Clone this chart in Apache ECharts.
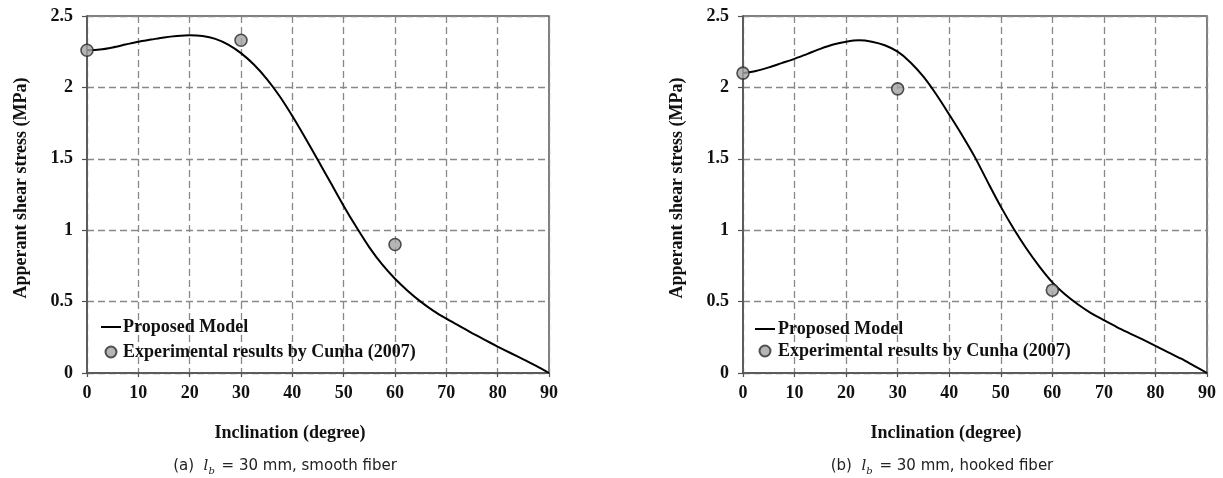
<!DOCTYPE html>
<html>
<head>
<meta charset="utf-8">
<script src="https://cdn.jsdelivr.net/npm/echarts@6/dist/echarts.min.js"></script>
<style>html,body{margin:0;padding:0;background:#fff}#c{width:1223px;height:478px}</style>
</head>
<body>
<div id="c"></div>
<script>
// ---- data ----
const inclination = [0,2.5,5,7.5,10,12.5,15,17.5,20,22.5,25,27.5,30,32.5,35,37.5,40,42.5,45,47.5,50,52.5,55,57.5,60,62.5,65,67.5,70,72.5,75,77.5,80,82.5,85,87.5,90];
const modelSmooth = [2.26,2.265,2.28,2.30,2.32,2.335,2.35,2.36,2.365,2.36,2.34,2.30,2.24,2.16,2.06,1.94,1.80,1.648,1.49,1.33,1.17,1.02,0.88,0.76,0.66,0.575,0.50,0.435,0.38,0.33,0.28,0.232,0.185,0.14,0.095,0.05,0];
const modelHooked = [2.10,2.115,2.14,2.17,2.20,2.235,2.27,2.30,2.32,2.33,2.32,2.295,2.25,2.175,2.075,1.95,1.81,1.665,1.51,1.335,1.165,1.01,0.87,0.745,0.635,0.55,0.48,0.42,0.37,0.322,0.278,0.235,0.19,0.145,0.10,0.05,0];
const expInclination = [0,30,60];
const expSmooth = [2.26,2.33,0.90];
const expHooked = [2.10,1.99,0.58];
const xTitle = 'Inclination (degree)';
const yTitle = 'Apperant shear stress (MPa)';
const seriesNames = ['Proposed Model','Experimental results by Cunha (2007)'];

const serif = 'Liberation Serif';
const pairs = (xs, ys) => xs.map((x,i)=>[x, ys[i]]);

function xAxis(gi){
  return {type:'value', gridIndex:gi, min:0, max:90, interval:10,
    axisLine:{show:true, lineStyle:{color:'#505050', width:1.5}},
    axisTick:{show:true, length:4, inside:false, lineStyle:{color:'#505050', width:1.2}},
    axisLabel:{color:'#111', fontFamily:serif, fontWeight:'bold', fontSize:18, margin:11},
    splitLine:{show:true, lineStyle:{color:'#888', width:1.3, type:[7,4]}}};
}
function yAxis(gi){
  return {type:'value', gridIndex:gi, min:0, max:2.5, interval:0.5,
    axisLine:{show:true, lineStyle:{color:'#505050', width:1.5}},
    axisTick:{show:true, length:5, lineStyle:{color:'#505050', width:1.2}},
    axisLabel:{color:'#111', fontFamily:serif, fontWeight:'bold', fontSize:18, margin:14},
    splitLine:{show:true, lineStyle:{color:'#888', width:1.3, type:[7,4]}}};
}
function lineSeries(gi, ys){
  return {name:seriesNames[0], type:'line', xAxisIndex:gi, yAxisIndex:gi,
    data:pairs(inclination, ys), smooth:0.3, symbol:'none',
    lineStyle:{color:'#000', width:2}, itemStyle:{color:'#000'}, z:3};
}
function scatterSeries(gi, ys){
  return {name:seriesNames[1], type:'scatter', xAxisIndex:gi, yAxisIndex:gi,
    data:pairs(expInclination, ys), symbol:'circle', symbolSize:12,
    itemStyle:{color:'#a3a3a3', borderColor:'#2a2a2a', borderWidth:1.6}, z:5};
}
function legend(left, top, gap, textPad){
  return {left:left, top:top, padding:0, orient:'vertical', itemWidth:20, itemHeight:11, itemGap:gap,
    data:[{name:seriesNames[0], icon:'path://M0,0L20,0L20,2L0,2Z'},{name:seriesNames[1], icon:'circle'}],
    textStyle:{fontFamily:serif, fontWeight:'bold', fontSize:18, color:'#111', padding:[0,0,0,textPad]},
    selectedMode:false};
}
const titleText = (x,y,text,rot) => ({type:'text', x:x, y:y, rotation:rot||0,
  style:{text:text, fontFamily:serif, fontWeight:'bold', fontSize:18, fill:'#111', align:'center', verticalAlign:'middle'}});
const caption = (x,y,tag,rest) => ({type:'text', x:x, y:y,
  style:{text:'{n|'+tag+'  }{i|l}{s|b}{n| = 30 mm, '+rest+'}', align:'center', verticalAlign:'middle',
    rich:{n:{fontFamily:'DejaVu Sans', fontSize:15, fill:'#222', lineHeight:20, verticalAlign:'middle'},
          i:{fontFamily:'DejaVu Serif', fontStyle:'italic', fontSize:15, fill:'#222', lineHeight:20, verticalAlign:'middle'},
          s:{fontFamily:'DejaVu Serif', fontStyle:'italic', fontSize:10, fill:'#222', lineHeight:20, verticalAlign:'bottom', padding:[0,2,0,0]}}}});

const chart = echarts.init(document.getElementById('c'), null, {renderer:'canvas'});
chart.setOption({
  backgroundColor:'#fff',
  animation:false,
  grid:[
    {left:87, top:16, width:462, height:357, show:true, borderColor:'#555', borderWidth:1.5, backgroundColor:'transparent'},
    {left:743, top:16, width:464, height:357, show:true, borderColor:'#555', borderWidth:1.5, backgroundColor:'transparent'}
  ],
  xAxis:[xAxis(0), xAxis(1)],
  yAxis:[yAxis(0), yAxis(1)],
  legend:[legend(101, 318, 7, -3), legend(755, 320, 4, -2)],
  series:[lineSeries(0, modelSmooth), scatterSeries(0, expSmooth), lineSeries(1, modelHooked), scatterSeries(1, expHooked)],
  graphic:[
    titleText(21, 188, yTitle, Math.PI/2),
    titleText(677, 188, yTitle, Math.PI/2),
    titleText(290, 433, xTitle),
    titleText(946, 433, xTitle),
    caption(285, 466, '(a)', 'smooth fiber'),
    caption(942, 466, '(b)', 'hooked fiber')
  ]
});
</script>
</body>
</html>
